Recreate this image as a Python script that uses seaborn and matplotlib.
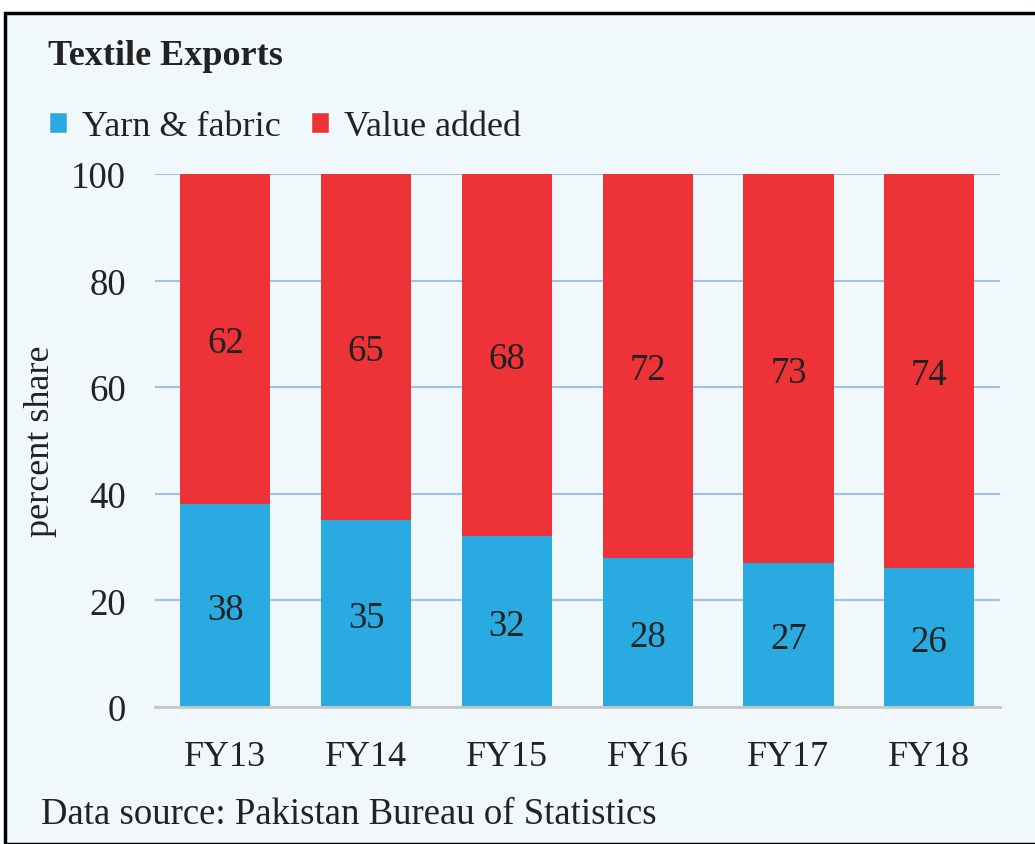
import matplotlib
matplotlib.use("Agg")
import matplotlib.pyplot as plt
from matplotlib.patches import Patch, Rectangle
import numpy as np
import pandas as pd
import seaborn as sns

years = ["FY13", "FY14", "FY15", "FY16", "FY17", "FY18"]
yarn_fabric = [38, 35, 32, 28, 27, 26]
value_added = [62, 65, 68, 72, 73, 74]

blue = "#29ABE2"
red = "#EE3338"
bg = "#F0F8FC"

sns.set_theme(style="white")
plt.rcParams["font.family"] = ["Liberation Serif", "DejaVu Serif"]

df = pd.DataFrame({"year": years, "yarn": yarn_fabric, "value": value_added})
df["total"] = df["yarn"] + df["value"]

fig = plt.figure(figsize=(10.35, 8.45), dpi=100)
fig.patch.set_facecolor("white")
# panel background with border
fig.patches.append(Rectangle((0.005, 0.0), 1.1, 0.983, transform=fig.transFigure,
                             facecolor=bg, edgecolor="black", linewidth=2.5, zorder=-1))

ax = fig.add_axes([0.1498, 0.162, 0.816, 0.631])
ax.set_zorder(2)
ax.patch.set_alpha(0)

sns.barplot(data=df, x="year", y="total", color=red, width=0.64, saturation=1,
            linewidth=0, ax=ax, zorder=2)
sns.barplot(data=df, x="year", y="yarn", color=blue, width=0.64, saturation=1,
            linewidth=0, ax=ax, zorder=3)

for i, (y, v) in enumerate(zip(yarn_fabric, value_added)):
    ax.text(i, y / 2, str(y), ha="center", va="center_baseline", fontsize=26.5,
            color="#222222", zorder=4)
    ax.text(i, y + v / 2, str(v), ha="center", va="center_baseline", fontsize=26.5,
            color="#222222", zorder=4)

ax.set_ylim(0, 100)
ax.set_xlim(-0.5, 5.5)
ax.set_yticks([0, 20, 40, 60, 80, 100])
ax.yaxis.grid(True, color="#9DC3E6", linewidth=1.5, zorder=1)
ax.set_axisbelow(True)
for s in ["top", "right", "left"]:
    ax.spines[s].set_visible(False)
ax.spines["bottom"].set_color("#C8C8C8")
ax.spines["bottom"].set_linewidth(2)
ax.spines["bottom"].set_zorder(5)
ax.tick_params(axis="y", length=0, pad=21, labelsize=26.5, labelcolor="#222222")
ax.tick_params(axis="x", length=0, pad=24, labelsize=26, labelcolor="#222222")
ax.set_xlabel("")
ax.set_ylabel("percent share", fontsize=26, color="#222222", labelpad=10)

handles = [Patch(facecolor=blue, label="Yarn & fabric"), Patch(facecolor=red, label="Value added")]
fig.legend(handles=handles, loc="center left", bbox_to_anchor=(0.03, 0.849), ncol=2,
           frameon=False, fontsize=26, handlelength=0.5, handleheight=0.5,
           handletextpad=0.4, columnspacing=0.85, labelcolor="#222222", borderpad=0)

fig.text(0.046, 0.933, "Textile Exports", fontsize=26, fontweight="bold", color="#222222",
         va="center", ha="left")
fig.text(0.04, 0.036, "Data source: Pakistan Bureau of Statistics", fontsize=26.5,
         color="#222222", va="center", ha="left")

fig.savefig("out.png", dpi=100, facecolor=fig.get_facecolor())
